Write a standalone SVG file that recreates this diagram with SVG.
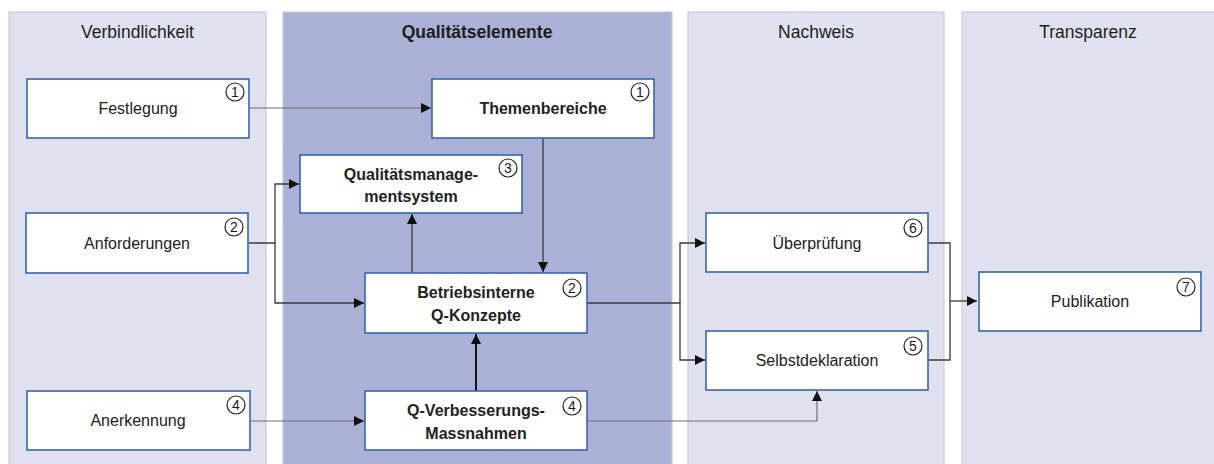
<svg xmlns="http://www.w3.org/2000/svg" width="1214" height="464" viewBox="0 0 1214 464">
<defs>
<style>
.lane{fill:#dfe1ef;stroke:#c4c6d2;stroke-width:1}
.lane2{fill:#aab0d6;stroke:#c4c6d2;stroke-width:1}
.hdr{font-family:"Liberation Sans",Arial,sans-serif;font-size:17.5px;fill:#1e1e1e;text-anchor:middle}
.box{fill:#ffffff;stroke:#3a64ad;stroke-width:1.6}
.t{font-family:"Liberation Sans",Arial,sans-serif;font-size:16px;fill:#222;text-anchor:middle}
.b{font-weight:bold}
.num circle{fill:#fff;stroke:#222;stroke-width:1.2}
.num text{font-family:"Liberation Sans",Arial,sans-serif;font-size:14px;fill:#1a1a1a;text-anchor:middle}
.c{fill:none;stroke:#3a3a3a;stroke-width:1.3}
.cl{fill:none;stroke:#6e6e78;stroke-width:1.2}
.ck{fill:none;stroke:#111;stroke-width:2}
</style>
<marker id="ar" viewBox="0 0 10 10" refX="10" refY="5" markerWidth="10" markerHeight="10" markerUnits="userSpaceOnUse" orient="auto">
<path d="M0,0 L10,5 L0,10 z" fill="#111"/>
</marker>
</defs>

<g id="lanes">
<rect class="lane" x="9" y="12" width="257" height="460"/>
<rect class="lane2" x="283" y="12" width="389" height="460"/>
<rect class="lane" x="688" y="12" width="256" height="460"/>
<rect class="lane" x="962" y="12" width="260" height="460"/>
<text class="hdr" x="137.5" y="38">Verbindlichkeit</text>
<text class="hdr b" x="477" y="38">Qualitätselemente</text>
<text class="hdr" x="816" y="38">Nachweis</text>
<text class="hdr" x="1088" y="38">Transparenz</text>
</g>

<g id="connectors">
<path class="cl" d="M249,108 H431" marker-end="url(#ar)"/>
<path class="c" d="M249,243 H275 V184 H299" marker-end="url(#ar)"/>
<path class="c" d="M275,243 V303 H364" marker-end="url(#ar)"/>
<path class="c" d="M543,138 V272" marker-end="url(#ar)"/>
<path class="c" d="M412,273 V214" marker-end="url(#ar)"/>
<path class="ck" d="M476,391 V334" marker-end="url(#ar)"/>
<path class="cl" d="M250,421 H364" marker-end="url(#ar)"/>
<path class="cl" d="M587,421 H817 V391" marker-end="url(#ar)"/>
<path class="c" d="M587,303 H680 V243 H705" marker-end="url(#ar)"/>
<path class="c" d="M680,303 V360 H705" marker-end="url(#ar)"/>
<path class="c" d="M928,243 H950 V360 H928"/>
<path class="c" d="M950,301 H977" marker-end="url(#ar)"/>
</g>

<g id="festlegung">
<rect class="box" x="27" y="79" width="222" height="59"/>
<text class="t" x="138" y="114">Festlegung</text>
<g class="num"><circle cx="235" cy="92" r="9"/><text x="235" y="97">1</text></g>
</g>

<g id="anforderungen">
<rect class="box" x="26" y="213" width="222" height="60"/>
<text class="t" x="137" y="249">Anforderungen</text>
<g class="num"><circle cx="234" cy="227" r="9"/><text x="234" y="232">2</text></g>
</g>

<g id="anerkennung">
<rect class="box" x="27" y="391" width="223" height="59"/>
<text class="t" x="138" y="426">Anerkennung</text>
<g class="num"><circle cx="236" cy="405" r="9"/><text x="236" y="410">4</text></g>
</g>

<g id="themenbereiche">
<rect class="box" x="432" y="79" width="222" height="59"/>
<text class="t b" x="543" y="114">Themenbereiche</text>
<g class="num"><circle cx="640" cy="92" r="9"/><text x="640" y="97">1</text></g>
</g>

<g id="qms">
<rect class="box" x="300" y="155" width="222" height="58"/>
<text class="t b" x="411" y="180">Qualitätsmanage-</text>
<text class="t b" x="411" y="202">mentsystem</text>
<g class="num"><circle cx="508" cy="168" r="9"/><text x="508" y="173">3</text></g>
</g>

<g id="betriebsinterne">
<rect class="box" x="365" y="273" width="222" height="60"/>
<text class="t b" x="476" y="298">Betriebsinterne</text>
<g class="num"><circle cx="572" cy="288" r="9"/><text x="572" y="293">2</text></g>
<text class="t b" x="476" y="321">Q-Konzepte</text>
</g>

<g id="qverbesserung">
<rect class="box" x="365" y="391" width="222" height="59"/>
<text class="t b" x="476" y="416">Q-Verbesserungs-</text>
<text class="t b" x="476" y="439">Massnahmen</text>
<g class="num"><circle cx="572" cy="406" r="9"/><text x="572" y="411">4</text></g>
</g>

<g id="ueberpruefung">
<rect class="box" x="706" y="213" width="222" height="59"/>
<text class="t" x="817" y="249">Überprüfung</text>
<g class="num"><circle cx="913" cy="228" r="9"/><text x="913" y="233">6</text></g>
</g>

<g id="selbstdeklaration">
<rect class="box" x="706" y="331" width="222" height="59"/>
<text class="t" x="817" y="366">Selbstdeklaration</text>
<g class="num"><circle cx="913" cy="346" r="9"/><text x="913" y="351">5</text></g>
</g>

<g id="publikation">
<rect class="box" x="979" y="272" width="222" height="59"/>
<text class="t" x="1090" y="307">Publikation</text>
<g class="num"><circle cx="1186" cy="287" r="9"/><text x="1186" y="292">7</text></g>
</g>
</svg>
